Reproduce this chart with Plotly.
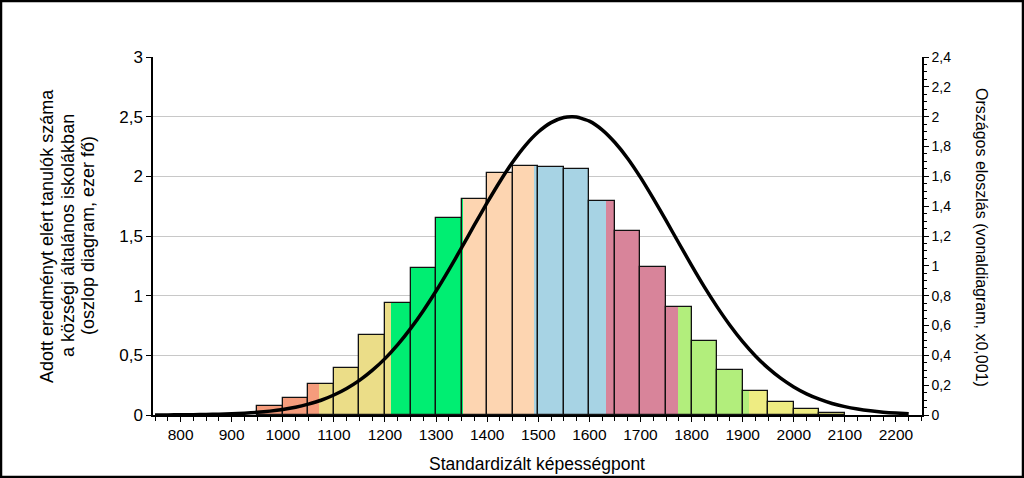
import plotly.graph_objects as go

# ---- data ----
bin_left = [950, 1000, 1050, 1100, 1150, 1200, 1250, 1300, 1350, 1400, 1450, 1500,
            1550, 1600, 1650, 1700, 1750, 1800, 1850, 1900, 1950, 2000, 2050]
bin_width = 50
counts = [0.075, 0.14, 0.26, 0.39, 0.67, 0.94, 1.23, 1.65, 1.81, 2.03, 2.09, 2.08,
          2.06, 1.79, 1.54, 1.24, 0.905, 0.62, 0.375, 0.205, 0.105, 0.05, 0.015]

level_bounds = [1071, 1212, 1352, 1492, 1632, 1773, 1913]
level_colors = ["#F59C7C", "#EBDD88", "#00EE72", "#FDD5B1", "#A7D3E4",
                "#D8849A", "#B2EE7C", "#EEEC82"]

curve_x = [750, 775, 800, 825, 850, 875, 900, 925, 950, 975, 1000, 1025, 1050, 1075,
           1100, 1125, 1150, 1175, 1200, 1225, 1250, 1275, 1300, 1325, 1350, 1375,
           1400, 1425, 1450, 1475, 1500, 1525, 1550, 1565, 1575, 1600, 1625, 1650,
           1675, 1700, 1725, 1750, 1775, 1800, 1825, 1850, 1875, 1900, 1925, 1950,
           1975, 2000, 2025, 2050, 2075, 2100, 2125, 2150, 2175, 2200, 2225]
curve_y = [0.0005, 0.0008, 0.0013, 0.0021, 0.0034, 0.0052, 0.008, 0.012, 0.018, 0.026,
           0.037, 0.052, 0.073, 0.099, 0.134, 0.178, 0.232, 0.299, 0.378, 0.472,
           0.579, 0.699, 0.831, 0.973, 1.122, 1.274, 1.423, 1.565, 1.696, 1.808,
           1.897, 1.960, 1.994, 2.0, 1.998, 1.970, 1.912, 1.827, 1.720, 1.593,
           1.452, 1.304, 1.153, 1.003, 0.859, 0.725, 0.602, 0.492, 0.396, 0.314,
           0.245, 0.188, 0.142, 0.106, 0.077, 0.056, 0.040, 0.028, 0.019, 0.013, 0.009]

x_ticks = [800, 900, 1000, 1100, 1200, 1300, 1400, 1500, 1600, 1700, 1800, 1900,
           2000, 2100, 2200]

left_title_lines = ["Adott eredményt elért tanulók száma",
                    "a községi általános iskolákban",
                    "(oszlop diagram, ezer fő)"]
right_title = "Országos eloszlás (vonaldiagram, x0,001)"
x_title = "Standardizált képességpont"

FONT = "Liberation Sans, Arial, sans-serif"

fig = go.Figure()

# coloured pieces of each bin (split at level boundaries)
edges = [-1e9] + level_bounds + [1e9]
for left, h in zip(bin_left, counts):
    right = left + bin_width
    for i, col in enumerate(level_colors):
        a = max(left, edges[i])
        b = min(right, edges[i + 1])
        if b > a:
            fig.add_trace(go.Bar(
                x=[(a + b) / 2], y=[h], width=[b - a],
                marker=dict(color=col, line=dict(width=0)),
                showlegend=False, hoverinfo="skip"))

# outlines of each bin
fig.add_trace(go.Bar(
    x=[l + bin_width / 2 for l in bin_left], y=counts,
    width=[bin_width] * len(bin_left),
    marker=dict(color="rgba(0,0,0,0)", line=dict(color="#111111", width=1.3)),
    showlegend=False))

# national distribution curve
fig.add_trace(go.Scatter(
    x=curve_x, y=curve_y, mode="lines", yaxis="y2",
    line=dict(color="black", width=3.5, shape="spline", smoothing=0.5),
    showlegend=False))

W, H = 1024, 478
ml, mr, mt, mb = 153, 102, 57, 63
pw, ph = W - ml - mr, H - mt - mb


def px(xs):
    return (xs - ml) / pw


def py(ys):
    return (H - mb - ys) / ph


annotations = []
for xs, line in zip([47, 68, 88], left_title_lines):
    annotations.append(dict(text=line, xref="paper", yref="paper", x=px(xs), y=py(236),
                            textangle=-90, showarrow=False, font=dict(size=18),
                            xanchor="center", yanchor="middle"))
annotations.append(dict(text=right_title, xref="paper", yref="paper", x=px(982), y=py(237),
                        textangle=90, showarrow=False, font=dict(size=16),
                        xanchor="center", yanchor="middle"))
annotations.append(dict(text=x_title, xref="paper", yref="paper", x=px(537), y=py(464),
                        showarrow=False, font=dict(size=17.5),
                        xanchor="center", yanchor="middle"))

fig.update_layout(
    width=W, height=H,
    margin=dict(l=ml, r=mr, t=mt, b=mb, pad=0),
    paper_bgcolor="white", plot_bgcolor="white",
    barmode="overlay", bargap=0,
    separators=", ",
    font=dict(family=FONT, size=16, color="black"),
    xaxis=dict(
        range=[746, 2251], tickvals=x_ticks, ticktext=[str(v) for v in x_ticks],
        ticks="outside", ticklen=5, tickcolor="black",
        minor=dict(dtick=25, tick0=750, ticks="outside", ticklen=4, tickcolor="black"),
        showline=True, linecolor="black", linewidth=1.5,
        showgrid=False, zeroline=False,
        tickfont=dict(size=15.5),
    ),
    yaxis=dict(
        range=[0, 3], dtick=0.5, tickformat="~g",
        ticks="outside", ticklen=5, tickcolor="black",
        showline=True, linecolor="black", linewidth=1.5,
        showgrid=True, gridcolor="#C8C8C8", gridwidth=1, zeroline=False,
        tickfont=dict(size=17),
    ),
    yaxis2=dict(
        range=[0, 2.4], dtick=0.2, tickformat="~g", overlaying="y", side="right",
        ticks="outside", ticklen=5, tickcolor="black",
        minor=dict(dtick=0.05, ticks="outside", ticklen=3, tickcolor="black"),
        showline=True, linecolor="black", linewidth=1.5,
        showgrid=False, zeroline=False,
        tickfont=dict(size=14),
    ),
    annotations=annotations,
    shapes=[
        dict(type="rect", xref="paper", yref="paper",
             x0=-(ml - 1) / pw, x1=1 + (mr - 1) / pw,
             y0=-(mb - 1) / ph, y1=1 + (mt - 1) / ph,
             line=dict(color="black", width=2.5), layer="above"),
    ],
)

fig.write_html("out.html", config={"displayModeBar": False},
               post_script="document.body.style.margin='0';document.body.style.padding='0';")
